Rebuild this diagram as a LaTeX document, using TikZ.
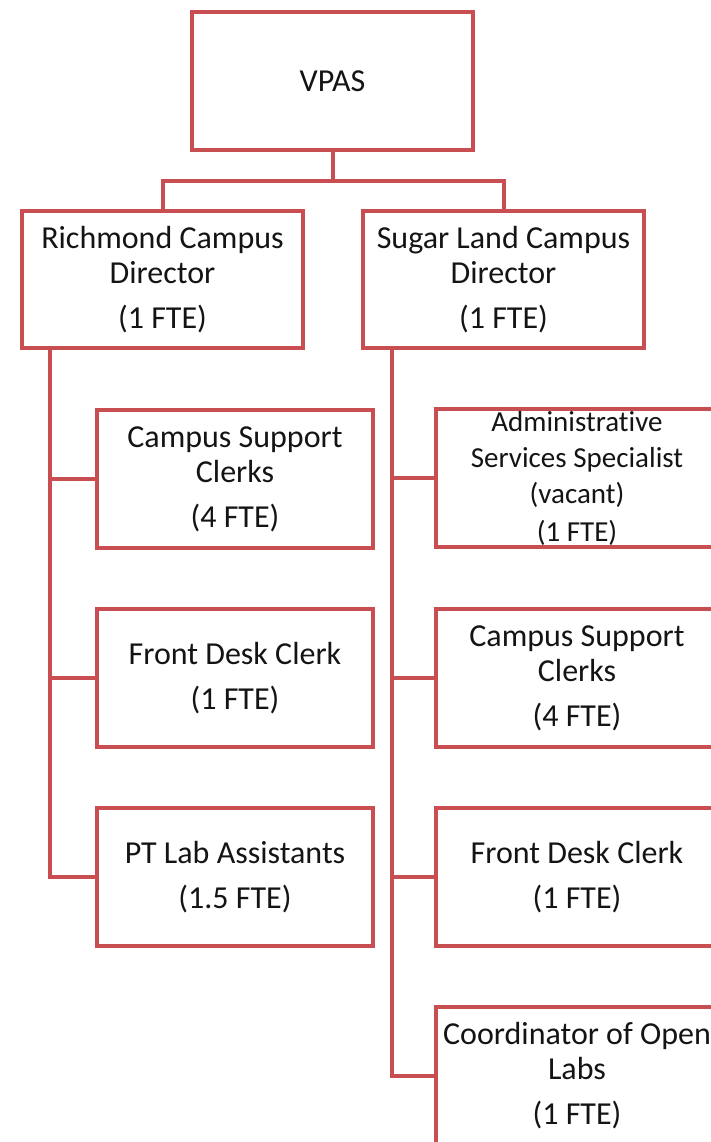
\documentclass[tikz,border=0pt]{standalone}
\usepackage{fontspec}
\setmainfont[Ligatures=NoCommon]{Carlito}
\usepackage{tikz}
\usetikzlibrary{positioning, calc}

\definecolor{boxred}{RGB}{200,78,82}
\definecolor{txtgray}{RGB}{20,20,20}
\newcommand{\boxfont}{\fontsize{32}{35}\selectfont}
\newcommand{\smallboxfont}{\fontsize{29}{36}\selectfont}

\tikzset{
	orgbox/.style={draw=boxred, line width=4pt, anchor=north west, align=center, text=txtgray, font=\boxfont, inner sep=0pt},
	orgline/.style={draw=boxred, line width=4pt}
}

\begin{document}
\begin{tikzpicture}[x=1pt, y=-1pt]
		\useasboundingbox (0,0) rectangle (711,1142);

		\coordinate (vpas)  at (190, 10);
		\coordinate (rcd)   at (20, 209);
		\coordinate (sld)   at (361, 209);
		\coordinate (rcsc)  at (95, 408);
		\coordinate (rfdc)  at (95, 607);
		\coordinate (rptl)  at (95, 806);
		\coordinate (sadm)  at (434, 407);
		\coordinate (scsc)  at (434, 607);
		\coordinate (sfdc)  at (434, 806);
		\coordinate (scol)  at (434, 1005);

		\node[orgbox, minimum width=281pt, minimum height=138pt] (VPAS) at (vpas) {VPAS};
		\node[orgbox, minimum width=281pt, minimum height=137pt] (RCD) at (rcd) {Richmond Campus\\Director\\[10pt](1 FTE)};
		\node[orgbox, minimum width=281pt, minimum height=137pt] (SLD) at (sld) {Sugar Land Campus\\Director\\[10pt](1 FTE)};
		\node[orgbox, minimum width=276pt, minimum height=138pt] (RCSC) at (rcsc) {Campus Support\\Clerks\\[10pt](4 FTE)};
		\node[orgbox, minimum width=276pt, minimum height=138pt] (RFDC) at (rfdc) {Front Desk Clerk\\[10pt](1 FTE)};
		\node[orgbox, minimum width=276pt, minimum height=138pt] (RPTL) at (rptl) {PT Lab Assistants\\[10pt](1.5 FTE)};
		\node[orgbox, minimum width=282pt, minimum height=138pt, font=\smallboxfont] (SADM) at (sadm) {Administrative\\Services Specialist\\(vacant)\\[2pt](1 FTE)};
		\node[orgbox, minimum width=282pt, minimum height=138pt] (SCSC) at (scsc) {Campus Support\\Clerks\\[10pt](4 FTE)};
		\node[orgbox, minimum width=282pt, minimum height=138pt] (SFDC) at (sfdc) {Front Desk Clerk\\[10pt](1 FTE)};
		\node[orgbox, minimum width=282pt, minimum height=138pt] (SCOL) at (scol) {Coordinator of Open\\Labs\\[10pt](1 FTE)};

		\coordinate (bus)    at ($(VPAS.south)+(0,29)$);
		\coordinate (rtrunk) at ($(RCD.south west)+(30,0)$);
		\coordinate (strunk) at ($(SLD.south west)+(31,0)$);

		\draw[orgline] (VPAS.south) -- (bus);
		\draw[orgline] (RCD.north) |- (bus) -| (SLD.north);
		\draw[orgline] (rtrunk) |- (RCSC.west);
		\draw[orgline] (rtrunk) |- (RFDC.west);
		\draw[orgline] (rtrunk) |- (RPTL.west);
		\draw[orgline] (strunk) |- (SADM.west);
		\draw[orgline] (strunk) |- (SCSC.west);
		\draw[orgline] (strunk) |- (SFDC.west);
		\draw[orgline] (strunk) |- (SCOL.west);
	\end{tikzpicture}
\end{document}
